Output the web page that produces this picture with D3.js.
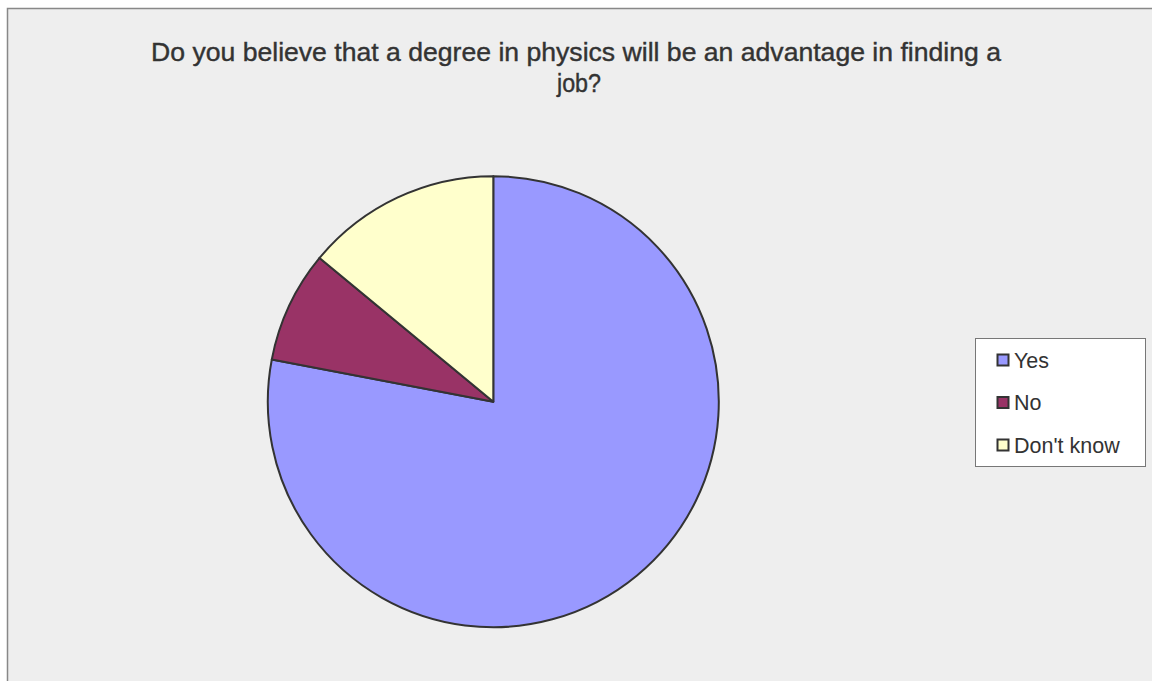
<!DOCTYPE html>
<html><head><meta charset="utf-8">
<script src="https://cdn.jsdelivr.net/npm/d3@7"></script>
<style>body{margin:0;background:#fff}svg{display:block}</style>
</head><body>
<svg id="c" width="1152" height="681"></svg>
<script>
const categories = ["Yes", "No", "Don't know"];
const values = [39, 4, 7];
const colors = ["#9999ff", "#993366", "#ffffcc"];
const titleLines = ["Do you believe that a degree in physics will be an advantage in finding a", "job?"];

const svg = d3.select("#c");
svg.append("rect").attr("x", 7.5).attr("y", 8.5).attr("width", 1160).attr("height", 690)
  .attr("fill", "#eeeeee").attr("stroke", "#888").attr("stroke-width", 1.5);

const title = svg.append("text").attr("font-family", "'Liberation Sans',Arial,sans-serif")
  .attr("font-size", 26).attr("fill", "#333").attr("stroke", "#333").attr("stroke-width", 0.4)
  .attr("text-anchor", "middle");
title.append("tspan").attr("x", 576).attr("y", 61).text(titleLines[0])
  .attr("textLength", 850).attr("lengthAdjust", "spacingAndGlyphs");
title.append("tspan").attr("x", 579).attr("y", 92).text(titleLines[1])
  .attr("textLength", 44).attr("lengthAdjust", "spacingAndGlyphs");

const cx = 493.3, cy = 401.7, r = 225.5;
const pie = d3.pie().sort(null).value(d => d)(values);
const arc = d3.arc().innerRadius(0).outerRadius(r);
const g = svg.append("g").attr("transform", `translate(${cx},${cy})`);
g.selectAll("path").data(pie).join("path").attr("d", arc)
  .attr("fill", (d, i) => colors[i]).attr("stroke", "#333").attr("stroke-width", 2).attr("stroke-linejoin", "round");

const lg = svg.append("g");
lg.append("rect").attr("x", 975.5).attr("y", 338.5).attr("width", 170).attr("height", 128)
  .attr("fill", "#fff").attr("stroke", "#777").attr("stroke-width", 1);
categories.forEach((c, i) => {
  const y = 360 + i * 42.5;
  lg.append("rect").attr("x", 997.5).attr("y", y - 5.5).attr("width", 11).attr("height", 11)
    .attr("fill", colors[i]).attr("stroke", "#333").attr("stroke-width", 2);
  lg.append("text").attr("x", 1014).attr("y", y + 7.5).attr("font-family", "'Liberation Sans',Arial,sans-serif")
    .attr("font-size", 21.5).attr("fill", "#333").text(c);
});
</script>
</body></html>
